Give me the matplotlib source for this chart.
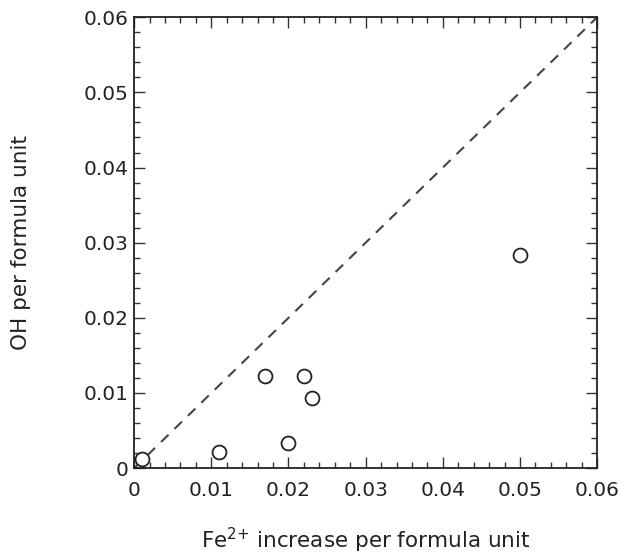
import matplotlib
matplotlib.use("Agg")
import matplotlib.pyplot as plt
from matplotlib.ticker import MultipleLocator

fe_increase = [0.001, 0.011, 0.017, 0.020, 0.022, 0.023, 0.050]
oh_pfu = [0.0012, 0.0022, 0.0122, 0.0033, 0.0122, 0.0093, 0.0283]
line_range = [0.0, 0.06]

plt.rcParams['font.family'] = ['DejaVu Sans']

fig = plt.figure(figsize=(6.24, 5.56), dpi=100)
ax = fig.add_axes([0.215, 0.158, 0.742, 0.811])

ax.plot(line_range, line_range, linestyle=(0, (5, 4)), color='#444444', linewidth=1.5)
ax.plot(fe_increase, oh_pfu, linestyle='none', marker='o', markersize=10,
        markerfacecolor='white', markeredgecolor='#222222', markeredgewidth=1.3, clip_on=False)

ax.set_xlim(0, 0.06)
ax.set_ylim(0, 0.06)
ax.xaxis.set_minor_locator(MultipleLocator(0.002))
ax.yaxis.set_minor_locator(MultipleLocator(0.002))

xt = [0, 0.01, 0.02, 0.03, 0.04, 0.05, 0.06]
xl = ['0', '0.01', '0.02', '0.03', '0.04', '0.05', '0.06']
ax.set_xticks(xt)
ax.set_xticklabels(xl)
ax.set_yticks(xt)
ax.set_yticklabels(xl)

ax.tick_params(which='both', direction='in', top=True, right=True, color='#333333', width=1.0)
ax.tick_params(which='major', length=8, labelsize=14.5, labelcolor='#222222')
ax.tick_params(axis='x', which='major', pad=9)
ax.tick_params(axis='y', which='major', pad=4)
ax.tick_params(which='minor', length=4.5)
for s in ax.spines.values():
    s.set_linewidth(1.3)
    s.set_color('#222222')

ax.set_xlabel('Fe$^{\\mathregular{2\\!+}}\\,$increase per formula unit', fontsize=15.5, labelpad=19, color='#222222')
ax.set_ylabel('OH per formula unit', fontsize=15.5, labelpad=38, color='#222222')

fig.savefig('out.png', dpi=100)
